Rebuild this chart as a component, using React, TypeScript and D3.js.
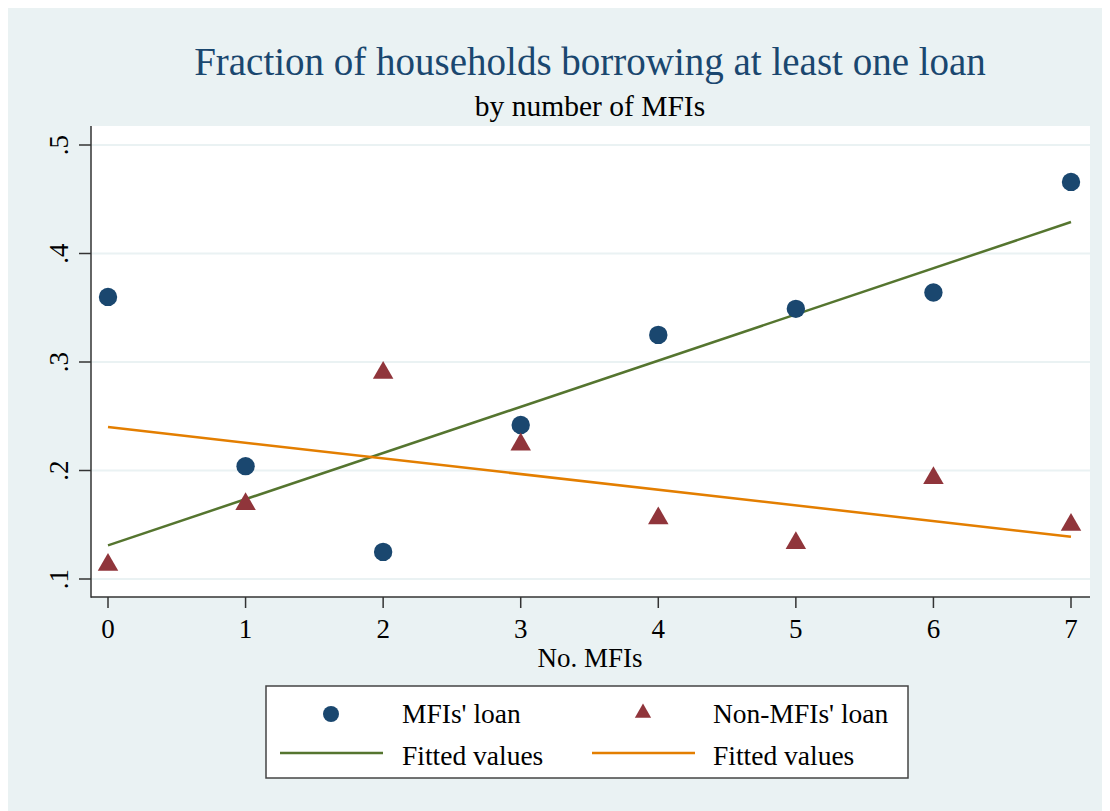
import React from 'react';
import * as d3 from 'd3';

// number of MFIs in the village
const mfiCounts = [0, 1, 2, 3, 4, 5, 6, 7];
// share of households with at least one MFI loan
const mfiLoan = [0.36, 0.204, 0.125, 0.242, 0.325, 0.349, 0.364, 0.466];
// share of households with at least one non-MFI loan
const nonMfiLoan = [0.113, 0.169, 0.29, 0.224, 0.156, 0.133, 0.193, 0.15];
// fitted values (endpoints of the linear fits)
const fitX = [0, 7];
const mfiFit = [0.131, 0.429];
const nonMfiFit = [0.24, 0.139];

const yTicks = [0.1, 0.2, 0.3, 0.4, 0.5];
const yTickLabels = ['.1', '.2', '.3', '.4', '.5'];

const W = 1102;
const H = 803;
const OX = -8; // svg sits at the 8px body margin
const OY = -8;

const plot = { left: 91, right: 1090, top: 126, bottom: 597 };

const BG = '#eaf2f3';
const NAVY = '#1a476f';
const MAROON = '#90353b';
const GREEN = '#55752f';
const ORANGE = '#e37e00';
const FONT = '"Liberation Serif", "Times New Roman", serif';

export default function App() {
  const x = d3.scaleLinear().domain([0, 7]).range([108, 1071]);
  const y = d3.scaleLinear().domain([0.1, 0.5]).range([579, 145]);

  const line = d3.line<[number, number]>()
    .x(d => x(d[0]))
    .y(d => y(d[1]));

  const circle = d3.symbol().type(d3.symbolCircle).size(Math.PI * 9.2 * 9.2)();
  const tri = d3.symbol().type(d3.symbolTriangle).size(182)();
  const legCircle = d3.symbol().type(d3.symbolCircle).size(Math.PI * 8 * 8)();
  const legTri = d3.symbol().type(d3.symbolTriangle).size(115)();

  const mfiFitPts = fitX.map((v, i) => [v, mfiFit[i]] as [number, number]);
  const nonFitPts = fitX.map((v, i) => [v, nonMfiFit[i]] as [number, number]);

  return (
    <svg width={W} height={H} style={{ display: 'block' }} fontFamily={FONT}>
      <g transform={`translate(${OX},${OY})`}>
        <rect x={8} y={8} width={W} height={H} fill={BG} />

        {/* titles */}
        <text x={590} y={75} textAnchor="middle" fontSize={39} fill={NAVY}>
          Fraction of households borrowing at least one loan
        </text>
        <text x={590} y={116} textAnchor="middle" fontSize={29.5} fill="#000">
          by number of MFIs
        </text>

        {/* plot region */}
        <rect x={plot.left} y={plot.top} width={plot.right - plot.left} height={plot.bottom - plot.top} fill="#fff" />
        {yTicks.map(t => (
          <line key={t} x1={plot.left} x2={plot.right} y1={y(t)} y2={y(t)} stroke={BG} strokeWidth={2} />
        ))}

        {/* fitted lines */}
        <path d={line(mfiFitPts) ?? ''} fill="none" stroke={GREEN} strokeWidth={2.5} />
        <path d={line(nonFitPts) ?? ''} fill="none" stroke={ORANGE} strokeWidth={2.5} />

        {/* scatter */}
        {mfiCounts.map((c, i) => (
          <path key={'m' + c} d={circle ?? ''} transform={`translate(${x(c)},${y(mfiLoan[i])})`} fill={NAVY} />
        ))}
        {mfiCounts.map((c, i) => (
          <path key={'n' + c} d={tri ?? ''} transform={`translate(${x(c)},${y(nonMfiLoan[i])})`} fill={MAROON} />
        ))}

        {/* axes */}
        <line x1={plot.left} x2={plot.left} y1={plot.top} y2={plot.bottom + 0.75} stroke="#333" strokeWidth={1.5} />
        <line x1={plot.left} x2={plot.right} y1={plot.bottom} y2={plot.bottom} stroke="#333" strokeWidth={1.5} />
        {yTicks.map((t, i) => (
          <g key={'yt' + t}>
            <line x1={plot.left - 12} x2={plot.left} y1={y(t)} y2={y(t)} stroke="#333" strokeWidth={1.5} />
            <text
              transform={`translate(68,${y(t)}) rotate(-90)`}
              textAnchor="middle"
              fontSize={27}
              fill="#000"
            >
              {yTickLabels[i]}
            </text>
          </g>
        ))}
        {mfiCounts.map(c => (
          <g key={'xt' + c}>
            <line x1={x(c)} x2={x(c)} y1={plot.bottom} y2={plot.bottom + 11} stroke="#333" strokeWidth={1.5} />
            <text x={x(c)} y={638} textAnchor="middle" fontSize={27} fill="#000">{c}</text>
          </g>
        ))}
        <text x={590} y={667} textAnchor="middle" fontSize={27} fill="#000">No. MFIs</text>

        {/* legend */}
        <rect x={266} y={686} width={642} height={92} fill="#fff" stroke="#444" strokeWidth={1.5} />
        <path d={legCircle ?? ''} transform="translate(331,714)" fill={NAVY} />
        <text x={402} y={723} fontSize={27.5} fill="#000">MFIs' loan</text>
        <path d={legTri ?? ''} transform="translate(643,713)" fill={MAROON} />
        <text x={713} y={723} fontSize={27.5} fill="#000">Non-MFIs' loan</text>
        <line x1={280} x2={383} y1={753} y2={753} stroke={GREEN} strokeWidth={2.5} />
        <text x={402} y={765} fontSize={27.5} fill="#000">Fitted values</text>
        <line x1={592} x2={695} y1={753} y2={753} stroke={ORANGE} strokeWidth={2.5} />
        <text x={713} y={765} fontSize={27.5} fill="#000">Fitted values</text>
      </g>
    </svg>
  );
}
